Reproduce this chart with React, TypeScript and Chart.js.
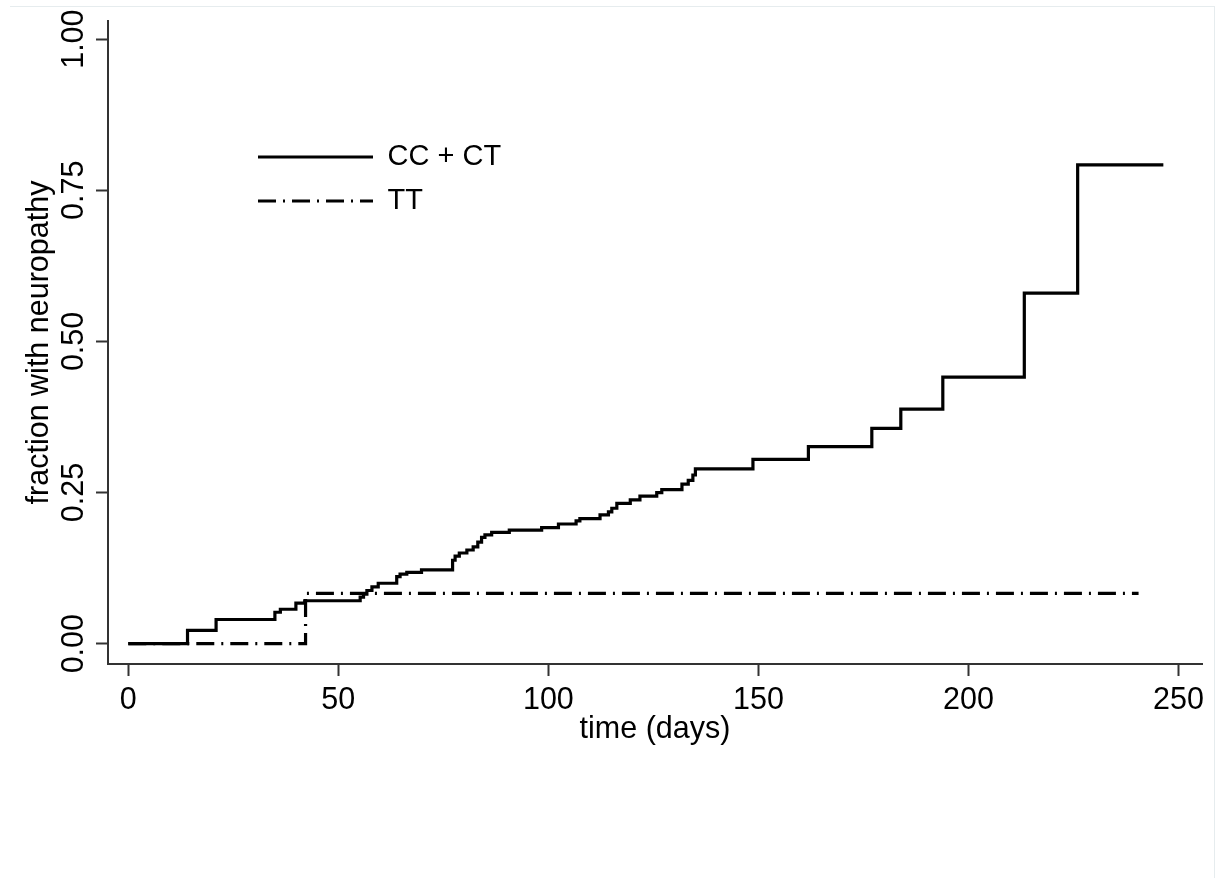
import React, { useEffect, useRef } from "react";
import { Chart, registerables } from "chart.js";

Chart.register(...registerables);

// ---- data ----
const seriesNames = ["CC + CT", "TT"];

const ccctDays = [
  0, 14.1, 20.9, 34.9, 36.2, 39.9, 42.0, 55.2, 56.0, 56.8, 58.0, 59.5, 63.9, 64.7,
  66.3, 69.8, 77.2, 77.8, 78.8, 80.6, 82.1, 83.2, 84.1, 84.9, 86.5, 90.7, 98.4,
  102.4, 106.6, 107.5, 112.3, 114.3, 115.1, 116.3, 119.5, 121.8, 125.8, 127.0,
  131.8, 133.3, 134.4, 135.0, 148.7, 161.9, 177.0, 183.9, 193.9, 213.3, 226.0,
  246.4,
];
const ccctFraction = [
  0, 0.022, 0.04, 0.052, 0.057, 0.067, 0.071, 0.077, 0.082, 0.088, 0.094, 0.1,
  0.111, 0.115, 0.118, 0.122, 0.138, 0.145, 0.15, 0.155, 0.16, 0.168, 0.176, 0.18,
  0.184, 0.188, 0.192, 0.198, 0.203, 0.207, 0.213, 0.218, 0.224, 0.232, 0.238,
  0.244, 0.25, 0.255, 0.264, 0.27, 0.279, 0.289, 0.305, 0.326, 0.356, 0.388,
  0.441, 0.58, 0.792, 0.792,
];

const ttDays = [0, 42.2, 240.5];
const ttFraction = [0, 0.0833, 0.0833];

const xTickValues = [0, 50, 100, 150, 200, 250];
const xTickLabels = ["0", "50", "100", "150", "200", "250"];
const yTickValues = [0, 0.25, 0.5, 0.75, 1];
const yTickLabels = ["0.00", "0.25", "0.50", "0.75", "1.00"];

const xAxisTitle = "time (days)";
const yAxisTitle = "fraction with neuropathy";

const FONT = "'Liberation Sans', Arial, sans-serif";
const AXIS_FONT_SIZE = 30.5;
const LEGEND_FONT_SIZE = 29;
const AXIS_COLOR = "#333333";

const legendPlacer = {
  id: "legendPlacer",
  afterLayout(chart: any) {
    const lg = chart.legend;
    if (!lg) return;
    lg.left = 243;
    lg.top = 127.5;
    lg.width = 420;
    lg.right = 243 + 420;
    lg.bottom = 664;
    lg.height = 664 - 127.5;
  },
};

export default function App() {
  const canvasRef = useRef<HTMLCanvasElement | null>(null);

  useEffect(() => {
    const canvas = canvasRef.current;
    if (!canvas) return;

    const chart = new Chart(canvas, {
      type: "line",
      data: {
        datasets: [
          {
            label: seriesNames[0],
            data: ccctDays.map((d, i) => ({ x: d, y: ccctFraction[i] })),
            borderColor: "#000000",
            backgroundColor: "#000000",
            borderWidth: 3.2,
            pointRadius: 0,
            stepped: true,
            fill: false,
          },
          {
            label: seriesNames[1],
            data: ttDays.map((d, i) => ({ x: d, y: ttFraction[i] })),
            borderColor: "#000000",
            backgroundColor: "#000000",
            borderWidth: 3.2,
            borderDash: [18, 7, 2, 7],
            pointRadius: 0,
            stepped: true,
            fill: false,
          },
        ],
      },
      options: {
        animation: false,
        responsive: false,
        devicePixelRatio: 1,
        layout: { padding: { top: 21, right: 24, bottom: 0, left: 0 } },
        plugins: {
          tooltip: { enabled: false },
          legend: {
            display: true,
            position: "chartArea" as any,
            align: "start",
            labels: {
              usePointStyle: true,
              pointStyleWidth: 115,
              padding: 15,
              color: "#000000",
              font: { family: FONT, size: LEGEND_FONT_SIZE },
              generateLabels: (ch: any) =>
                ch.data.datasets.map((ds: any, i: number) => ({
                  text: ds.label,
                  fillStyle: "rgba(0,0,0,0)",
                  strokeStyle: ds.borderColor,
                  lineWidth: ds.borderWidth,
                  lineDash: ds.borderDash || [],
                  lineCap: "butt",
                  pointStyle: "line",
                  hidden: false,
                  datasetIndex: i,
                  fontColor: "#000000",
                })),
            },
          },
        },
        scales: {
          x: {
            type: "linear",
            min: -4.83,
            max: 255.6,
            afterBuildTicks: (scale: any) => {
              scale.ticks = xTickValues.map((v) => ({ value: v }));
            },
            afterFit: (scale: any) => {
              scale.height = 214;
            },
            ticks: {
              autoSkip: false,
              maxRotation: 0,
              minRotation: 0,
              padding: 6,
              color: "#000000",
              font: { family: FONT, size: AXIS_FONT_SIZE },
              callback: (_v: any, index: number) => xTickLabels[index],
            },
            grid: {
              display: true,
              drawOnChartArea: false,
              drawTicks: true,
              tickLength: 12,
              tickWidth: 2,
              tickColor: AXIS_COLOR,
              color: AXIS_COLOR,
            },
            border: { display: true, color: AXIS_COLOR, width: 2 },
            title: {
              display: true,
              text: xAxisTitle,
              color: "#000000",
              font: { family: FONT, size: AXIS_FONT_SIZE },
              padding: { top: 0, bottom: 130 },
            },
          },
          y: {
            type: "linear",
            min: -0.0336,
            max: 1.03,
            afterBuildTicks: (scale: any) => {
              scale.ticks = yTickValues.map((v) => ({ value: v }));
            },
            afterFit: (scale: any) => {
              scale.width = 108;
            },
            ticks: {
              autoSkip: false,
              minRotation: 90,
              maxRotation: 90,
              crossAlign: "center",
              padding: -8,
              color: "#000000",
              font: { family: FONT, size: AXIS_FONT_SIZE },
              callback: (_v: any, index: number) => yTickLabels[index],
            },
            grid: {
              display: true,
              drawOnChartArea: false,
              drawTicks: true,
              tickLength: 12,
              tickWidth: 2,
              tickColor: AXIS_COLOR,
              color: AXIS_COLOR,
            },
            border: { display: true, color: AXIS_COLOR, width: 2 },
            title: {
              display: true,
              text: yAxisTitle,
              color: "#000000",
              font: { family: FONT, size: AXIS_FONT_SIZE },
              padding: { top: 21.7, bottom: 0 },
            },
          },
        },
      },
      plugins: [legendPlacer],
    } as any);

    return () => {
      chart.destroy();
    };
  }, []);

  return (
    <div
      style={{
        position: "absolute",
        left: 0,
        top: 0,
        width: 1226,
        height: 878,
        background: "#ffffff",
        overflow: "hidden",
      }}
    >
      <canvas
        ref={canvasRef}
        width={1226}
        height={878}
        style={{ position: "absolute", left: 0, top: 0, width: 1226, height: 878 }}
      />
      <div
        style={{
          position: "absolute",
          left: 10,
          top: 6,
          width: 1204,
          height: 880,
          borderTop: "1px solid #e6ecee",
          borderRight: "1px solid #e6ecee",
          pointerEvents: "none",
        }}
      />
    </div>
  );
}
